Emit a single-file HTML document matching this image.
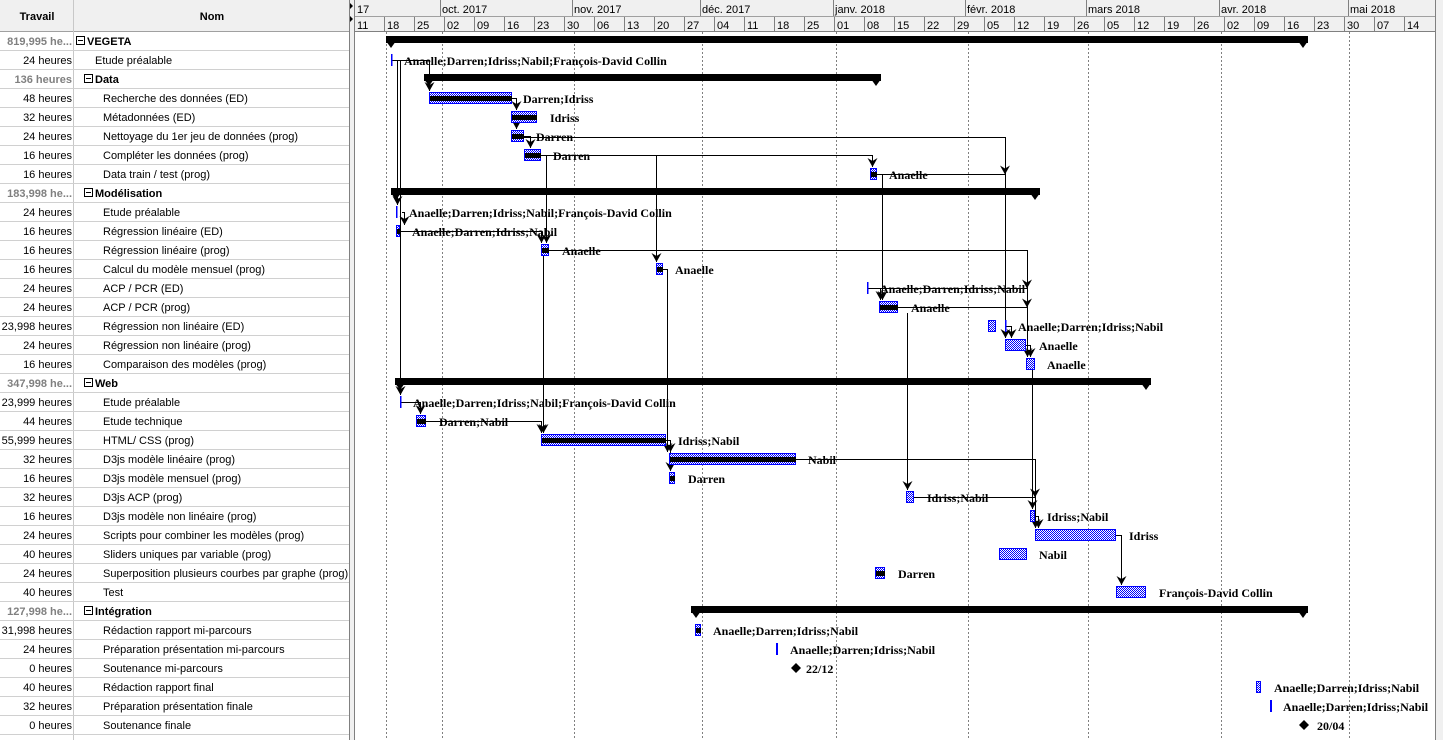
<!DOCTYPE html>
<html><head><meta charset="utf-8"><style>
html,body{margin:0;padding:0;background:#fff;width:1443px;height:740px;overflow:hidden}
svg{display:block}
.t{font-family:"Liberation Sans",sans-serif;font-size:11px;fill:#000}
.tr{font-family:"Liberation Sans",sans-serif;font-size:11px;fill:#000;text-anchor:end}
.sg{font-family:"Liberation Sans",sans-serif;font-size:11px;font-weight:bold;fill:#808080;text-anchor:end}
.sb{font-family:"Liberation Sans",sans-serif;font-size:11px;font-weight:bold;fill:#000}
.h{font-family:"Liberation Sans",sans-serif;font-size:11px;font-weight:bold;fill:#000;text-anchor:middle}
.l{font-family:"Liberation Serif",serif;font-size:12px;font-weight:bold;fill:#000}
.c{fill:none;stroke:#000;stroke-width:1}
</style></head><body>
<svg width="1443" height="740" xmlns="http://www.w3.org/2000/svg">
<defs>
<pattern id="chk" width="2" height="2" patternUnits="userSpaceOnUse"><rect width="2" height="2" fill="#fff"/><rect width="1" height="1" fill="#0000ff"/><rect x="1" y="1" width="1" height="1" fill="#0000ff"/></pattern>
<marker id="a" markerWidth="10" markerHeight="9" refX="5" refY="9" orient="0" markerUnits="userSpaceOnUse"><polygon points="0,0 5,3 10,0 5,9" fill="#000"/></marker>
</defs>
<rect width="1443" height="740" fill="#fff"/>
<rect x="0" y="0" width="349" height="31" fill="#f0f0f0"/>
<line x1="0" y1="31.5" x2="349" y2="31.5" stroke="#a0a0a0"/>
<line x1="73.5" y1="0" x2="73.5" y2="740" stroke="#c8c8c8"/>
<text class="h" x="37" y="20">Travail</text>
<text class="h" x="212" y="20">Nom</text>
<g stroke="#d0d0d0">
<line x1="0" y1="50.5" x2="349" y2="50.5"/><line x1="0" y1="69.5" x2="349" y2="69.5"/><line x1="0" y1="88.5" x2="349" y2="88.5"/><line x1="0" y1="107.5" x2="349" y2="107.5"/><line x1="0" y1="126.5" x2="349" y2="126.5"/><line x1="0" y1="145.5" x2="349" y2="145.5"/><line x1="0" y1="164.5" x2="349" y2="164.5"/><line x1="0" y1="183.5" x2="349" y2="183.5"/><line x1="0" y1="202.5" x2="349" y2="202.5"/><line x1="0" y1="221.5" x2="349" y2="221.5"/><line x1="0" y1="240.5" x2="349" y2="240.5"/><line x1="0" y1="259.5" x2="349" y2="259.5"/><line x1="0" y1="278.5" x2="349" y2="278.5"/><line x1="0" y1="297.5" x2="349" y2="297.5"/><line x1="0" y1="316.5" x2="349" y2="316.5"/><line x1="0" y1="335.5" x2="349" y2="335.5"/><line x1="0" y1="354.5" x2="349" y2="354.5"/><line x1="0" y1="373.5" x2="349" y2="373.5"/><line x1="0" y1="392.5" x2="349" y2="392.5"/><line x1="0" y1="411.5" x2="349" y2="411.5"/><line x1="0" y1="430.5" x2="349" y2="430.5"/><line x1="0" y1="449.5" x2="349" y2="449.5"/><line x1="0" y1="468.5" x2="349" y2="468.5"/><line x1="0" y1="487.5" x2="349" y2="487.5"/><line x1="0" y1="506.5" x2="349" y2="506.5"/><line x1="0" y1="525.5" x2="349" y2="525.5"/><line x1="0" y1="544.5" x2="349" y2="544.5"/><line x1="0" y1="563.5" x2="349" y2="563.5"/><line x1="0" y1="582.5" x2="349" y2="582.5"/><line x1="0" y1="601.5" x2="349" y2="601.5"/><line x1="0" y1="620.5" x2="349" y2="620.5"/><line x1="0" y1="639.5" x2="349" y2="639.5"/><line x1="0" y1="658.5" x2="349" y2="658.5"/><line x1="0" y1="677.5" x2="349" y2="677.5"/><line x1="0" y1="696.5" x2="349" y2="696.5"/><line x1="0" y1="715.5" x2="349" y2="715.5"/><line x1="0" y1="734.5" x2="349" y2="734.5"/>
</g>
<g fill="#fff" stroke="#000">
<rect x="76.5" y="36.5" width="8" height="8"/><rect x="84.5" y="74.5" width="8" height="8"/><rect x="84.5" y="188.5" width="8" height="8"/><rect x="84.5" y="378.5" width="8" height="8"/><rect x="84.5" y="606.5" width="8" height="8"/>
<line x1="78" y1="40.5" x2="83" y2="40.5"/><line x1="86" y1="78.5" x2="91" y2="78.5"/><line x1="86" y1="192.5" x2="91" y2="192.5"/><line x1="86" y1="382.5" x2="91" y2="382.5"/><line x1="86" y1="610.5" x2="91" y2="610.5"/>
</g>
<text class="sg" x="72" y="45">819,995 he...</text><text class="sb" x="87" y="45">VEGETA</text>
<text class="tr" x="72" y="64">24 heures</text><text class="t" x="95" y="64">Etude préalable</text>
<text class="sg" x="72" y="83">136 heures</text><text class="sb" x="95" y="83">Data</text>
<text class="tr" x="72" y="102">48 heures</text><text class="t" x="103" y="102">Recherche des données (ED)</text>
<text class="tr" x="72" y="121">32 heures</text><text class="t" x="103" y="121">Métadonnées (ED)</text>
<text class="tr" x="72" y="140">24 heures</text><text class="t" x="103" y="140">Nettoyage du 1er jeu de données (prog)</text>
<text class="tr" x="72" y="159">16 heures</text><text class="t" x="103" y="159">Compléter les données (prog)</text>
<text class="tr" x="72" y="178">16 heures</text><text class="t" x="103" y="178">Data train / test (prog)</text>
<text class="sg" x="72" y="197">183,998 he...</text><text class="sb" x="95" y="197">Modélisation</text>
<text class="tr" x="72" y="216">24 heures</text><text class="t" x="103" y="216">Etude préalable</text>
<text class="tr" x="72" y="235">16 heures</text><text class="t" x="103" y="235">Régression linéaire (ED)</text>
<text class="tr" x="72" y="254">16 heures</text><text class="t" x="103" y="254">Régression linéaire (prog)</text>
<text class="tr" x="72" y="273">16 heures</text><text class="t" x="103" y="273">Calcul du modèle mensuel (prog)</text>
<text class="tr" x="72" y="292">24 heures</text><text class="t" x="103" y="292">ACP / PCR (ED)</text>
<text class="tr" x="72" y="311">24 heures</text><text class="t" x="103" y="311">ACP / PCR (prog)</text>
<text class="tr" x="72" y="330">23,998 heures</text><text class="t" x="103" y="330">Régression non linéaire (ED)</text>
<text class="tr" x="72" y="349">24 heures</text><text class="t" x="103" y="349">Régression non linéaire (prog)</text>
<text class="tr" x="72" y="368">16 heures</text><text class="t" x="103" y="368">Comparaison des modèles (prog)</text>
<text class="sg" x="72" y="387">347,998 he...</text><text class="sb" x="95" y="387">Web</text>
<text class="tr" x="72" y="406">23,999 heures</text><text class="t" x="103" y="406">Etude préalable</text>
<text class="tr" x="72" y="425">44 heures</text><text class="t" x="103" y="425">Etude technique</text>
<text class="tr" x="72" y="444">55,999 heures</text><text class="t" x="103" y="444">HTML/ CSS (prog)</text>
<text class="tr" x="72" y="463">32 heures</text><text class="t" x="103" y="463">D3js modèle linéaire (prog)</text>
<text class="tr" x="72" y="482">16 heures</text><text class="t" x="103" y="482">D3js modèle mensuel (prog)</text>
<text class="tr" x="72" y="501">32 heures</text><text class="t" x="103" y="501">D3js ACP (prog)</text>
<text class="tr" x="72" y="520">16 heures</text><text class="t" x="103" y="520">D3js modèle non linéaire (prog)</text>
<text class="tr" x="72" y="539">24 heures</text><text class="t" x="103" y="539">Scripts pour combiner les modèles (prog)</text>
<text class="tr" x="72" y="558">40 heures</text><text class="t" x="103" y="558">Sliders uniques par variable (prog)</text>
<text class="tr" x="72" y="577">24 heures</text><text class="t" x="103" y="577">Superposition plusieurs courbes par graphe (prog)</text>
<text class="tr" x="72" y="596">40 heures</text><text class="t" x="103" y="596">Test</text>
<text class="sg" x="72" y="615">127,998 he...</text><text class="sb" x="95" y="615">Intégration</text>
<text class="tr" x="72" y="634">31,998 heures</text><text class="t" x="103" y="634">Rédaction rapport mi-parcours</text>
<text class="tr" x="72" y="653">24 heures</text><text class="t" x="103" y="653">Préparation présentation mi-parcours</text>
<text class="tr" x="72" y="672">0 heures</text><text class="t" x="103" y="672">Soutenance mi-parcours</text>
<text class="tr" x="72" y="691">40 heures</text><text class="t" x="103" y="691">Rédaction rapport final</text>
<text class="tr" x="72" y="710">32 heures</text><text class="t" x="103" y="710">Préparation présentation finale</text>
<text class="tr" x="72" y="729">0 heures</text><text class="t" x="103" y="729">Soutenance finale</text>
<rect x="349" y="0" width="6" height="740" fill="#f0f0f0"/>
<line x1="349.5" y1="0" x2="349.5" y2="740" stroke="#808080"/>
<line x1="354.5" y1="0" x2="354.5" y2="740" stroke="#808080"/>
<polygon points="350,3 353,6 350,9" fill="#000"/><polygon points="350,16 353,19 350,22" fill="#000"/>
<rect x="355" y="0" width="1080" height="31" fill="#f0f0f0"/>
<rect x="1435" y="0" width="8" height="740" fill="#f0f0f0"/>
<line x1="1435.5" y1="0" x2="1435.5" y2="740" stroke="#808080"/>
<line x1="355" y1="16.5" x2="1435" y2="16.5" stroke="#a0a0a0"/>
<line x1="355" y1="31.5" x2="1435" y2="31.5" stroke="#808080"/>
<g stroke="#808080">
<line x1="440.5" y1="0" x2="440.5" y2="16"/><line x1="572.5" y1="0" x2="572.5" y2="16"/><line x1="700.5" y1="0" x2="700.5" y2="16"/><line x1="833.5" y1="0" x2="833.5" y2="16"/><line x1="965.5" y1="0" x2="965.5" y2="16"/><line x1="1086.5" y1="0" x2="1086.5" y2="16"/><line x1="1219.5" y1="0" x2="1219.5" y2="16"/><line x1="1348.5" y1="0" x2="1348.5" y2="16"/>
</g>
<text class="t" x="357" y="13">17</text><text class="t" x="442" y="13">oct. 2017</text><text class="t" x="574" y="13">nov. 2017</text><text class="t" x="702" y="13">déc. 2017</text><text class="t" x="835" y="13">janv. 2018</text><text class="t" x="967" y="13">févr. 2018</text><text class="t" x="1088" y="13">mars 2018</text><text class="t" x="1221" y="13">avr. 2018</text><text class="t" x="1350" y="13">mai 2018</text>
<g stroke="#808080">
<line x1="384.5" y1="17" x2="384.5" y2="31"/><line x1="414.5" y1="17" x2="414.5" y2="31"/><line x1="444.5" y1="17" x2="444.5" y2="31"/><line x1="474.5" y1="17" x2="474.5" y2="31"/><line x1="504.5" y1="17" x2="504.5" y2="31"/><line x1="534.5" y1="17" x2="534.5" y2="31"/><line x1="564.5" y1="17" x2="564.5" y2="31"/><line x1="594.5" y1="17" x2="594.5" y2="31"/><line x1="624.5" y1="17" x2="624.5" y2="31"/><line x1="654.5" y1="17" x2="654.5" y2="31"/><line x1="684.5" y1="17" x2="684.5" y2="31"/><line x1="714.5" y1="17" x2="714.5" y2="31"/><line x1="744.5" y1="17" x2="744.5" y2="31"/><line x1="774.5" y1="17" x2="774.5" y2="31"/><line x1="804.5" y1="17" x2="804.5" y2="31"/><line x1="834.5" y1="17" x2="834.5" y2="31"/><line x1="864.5" y1="17" x2="864.5" y2="31"/><line x1="894.5" y1="17" x2="894.5" y2="31"/><line x1="924.5" y1="17" x2="924.5" y2="31"/><line x1="954.5" y1="17" x2="954.5" y2="31"/><line x1="984.5" y1="17" x2="984.5" y2="31"/><line x1="1014.5" y1="17" x2="1014.5" y2="31"/><line x1="1044.5" y1="17" x2="1044.5" y2="31"/><line x1="1074.5" y1="17" x2="1074.5" y2="31"/><line x1="1104.5" y1="17" x2="1104.5" y2="31"/><line x1="1134.5" y1="17" x2="1134.5" y2="31"/><line x1="1164.5" y1="17" x2="1164.5" y2="31"/><line x1="1194.5" y1="17" x2="1194.5" y2="31"/><line x1="1224.5" y1="17" x2="1224.5" y2="31"/><line x1="1254.5" y1="17" x2="1254.5" y2="31"/><line x1="1284.5" y1="17" x2="1284.5" y2="31"/><line x1="1314.5" y1="17" x2="1314.5" y2="31"/><line x1="1344.5" y1="17" x2="1344.5" y2="31"/><line x1="1374.5" y1="17" x2="1374.5" y2="31"/><line x1="1404.5" y1="17" x2="1404.5" y2="31"/>
</g>
<g>
<text class="t" x="357" y="29">11</text><text class="t" x="387" y="29">18</text><text class="t" x="417" y="29">25</text><text class="t" x="447" y="29">02</text><text class="t" x="477" y="29">09</text><text class="t" x="507" y="29">16</text><text class="t" x="537" y="29">23</text><text class="t" x="567" y="29">30</text><text class="t" x="597" y="29">06</text><text class="t" x="627" y="29">13</text><text class="t" x="657" y="29">20</text><text class="t" x="687" y="29">27</text><text class="t" x="717" y="29">04</text><text class="t" x="747" y="29">11</text><text class="t" x="777" y="29">18</text><text class="t" x="807" y="29">25</text><text class="t" x="837" y="29">01</text><text class="t" x="867" y="29">08</text><text class="t" x="897" y="29">15</text><text class="t" x="927" y="29">22</text><text class="t" x="957" y="29">29</text><text class="t" x="987" y="29">05</text><text class="t" x="1017" y="29">12</text><text class="t" x="1047" y="29">19</text><text class="t" x="1077" y="29">26</text><text class="t" x="1107" y="29">05</text><text class="t" x="1137" y="29">12</text><text class="t" x="1167" y="29">19</text><text class="t" x="1197" y="29">26</text><text class="t" x="1227" y="29">02</text><text class="t" x="1257" y="29">09</text><text class="t" x="1287" y="29">16</text><text class="t" x="1317" y="29">23</text><text class="t" x="1347" y="29">30</text><text class="t" x="1377" y="29">07</text><text class="t" x="1407" y="29">14</text>
</g>
<g stroke="#808080" stroke-dasharray="2,2">
<line x1="386.5" y1="32" x2="386.5" y2="740"/><line x1="442.5" y1="32" x2="442.5" y2="740"/><line x1="574.5" y1="32" x2="574.5" y2="740"/><line x1="702.5" y1="32" x2="702.5" y2="740"/><line x1="836.5" y1="32" x2="836.5" y2="740"/><line x1="968.5" y1="32" x2="968.5" y2="740"/><line x1="1088.5" y1="32" x2="1088.5" y2="740"/><line x1="1221.5" y1="32" x2="1221.5" y2="740"/><line x1="1349.5" y1="32" x2="1349.5" y2="740"/>
</g>
<g class="c" marker-end="url(#a)">
<path d="M392,60.5H429.5V91"/>
<path d="M397.5,60V205"/>
<path d="M400.5,60V395"/>
<path d="M402,212.5H404.5V225"/>
<path d="M511,98.5H516.5V110"/>
<path d="M516.5,123V129"/>
<path d="M524,136.5H530.5V148"/>
<path d="M524,137.5H1005.5V338"/>
<path d="M541,155.5H872.5V167"/>
<path d="M546.5,155V243"/>
<path d="M656.5,155V262"/>
<path d="M877,174.5H1005"/>
<path d="M882.5,174V300"/>
<path d="M399,231.5H541.5V243"/>
<path d="M548,250.5H1027.5V357"/>
<path d="M543.5,256V433"/>
<path d="M662,269.5H667.5V452"/>
<path d="M867,288.5H1027"/>
<path d="M880.5,288V300"/>
<path d="M898,307.5H1027"/>
<path d="M907.5,313V490"/>
<path d="M1005,326.5H1011.5V338"/>
<path d="M1026,345.5H1030.5V357"/>
<path d="M1032.5,370V509"/>
<path d="M400,402.5H420.5V414"/>
<path d="M426,421.5H541.5V433"/>
<path d="M666,440.5H670.5V452"/>
<path d="M670.5,446V471"/>
<path d="M796,459.5H1035.5V528"/>
<path d="M913,497.5H1035"/>
<path d="M1035,516.5H1038.5V528"/>
<path d="M1116,535.5H1121.5V585"/>
</g>
<g fill="#000">
<rect x="386" y="36" width="922" height="7"/><polygon points="386,41 396,41 391,48"/><polygon points="1298,41 1308,41 1303,48"/>
<rect x="424" y="74" width="457" height="7"/><polygon points="424,79 434,79 429,86"/><polygon points="871,79 881,79 876,86"/>
<rect x="391" y="188" width="649" height="7"/><polygon points="391,193 401,193 396,200"/><polygon points="1030,193 1040,193 1035,200"/>
<rect x="395" y="378" width="756" height="7"/><polygon points="395,383 405,383 400,390"/><polygon points="1141,383 1151,383 1146,390"/>
<rect x="691" y="606" width="617" height="7"/><polygon points="691,611 701,611 696,618"/><polygon points="1298,611 1308,611 1303,618"/>
</g>
<g fill="url(#chk)" stroke="#0000ff" stroke-width="1">
<rect x="429.5" y="92.5" width="82" height="11"/>
<rect x="511.5" y="111.5" width="25" height="11"/>
<rect x="511.5" y="130.5" width="12" height="11"/>
<rect x="524.5" y="149.5" width="16" height="11"/>
<rect x="870.5" y="168.5" width="6" height="11"/>
<rect x="396.5" y="225.5" width="3" height="11"/>
<rect x="541.5" y="244.5" width="7" height="11"/>
<rect x="656.5" y="263.5" width="6" height="11"/>
<rect x="879.5" y="301.5" width="18" height="11"/>
<rect x="988.5" y="320.5" width="7" height="11"/>
<rect x="1005.5" y="339.5" width="20" height="11"/>
<rect x="1026.5" y="358.5" width="8" height="11"/>
<rect x="416.5" y="415.5" width="9" height="11"/>
<rect x="541.5" y="434.5" width="124" height="11"/>
<rect x="669.5" y="453.5" width="126" height="11"/>
<rect x="669.5" y="472.5" width="5" height="11"/>
<rect x="906.5" y="491.5" width="7" height="11"/>
<rect x="1030.5" y="510.5" width="4" height="11"/>
<rect x="1035.5" y="529.5" width="80" height="11"/>
<rect x="999.5" y="548.5" width="27" height="11"/>
<rect x="875.5" y="567.5" width="9" height="11"/>
<rect x="1116.5" y="586.5" width="29" height="11"/>
<rect x="695.5" y="624.5" width="5" height="11"/>
<rect x="1256.5" y="681.5" width="4" height="11"/>
</g>
<g fill="#000">
<rect x="430" y="96" width="82" height="5"/><rect x="512" y="115" width="25" height="5"/><rect x="512" y="134" width="12" height="5"/><rect x="525" y="153" width="16" height="5"/><rect x="871" y="172" width="6" height="5"/><rect x="397" y="229" width="3" height="5"/><rect x="542" y="248" width="7" height="5"/><rect x="657" y="267" width="6" height="5"/><rect x="880" y="305" width="18" height="5"/><rect x="417" y="419" width="9" height="5"/><rect x="542" y="438" width="124" height="5"/><rect x="670" y="457" width="126" height="5"/><rect x="670" y="476" width="5" height="5"/><rect x="876" y="571" width="9" height="5"/><rect x="696" y="628" width="5" height="5"/>
</g>
<g fill="#0000ff">
<rect x="391" y="54" width="1.5" height="12"/><rect x="396" y="206" width="1.5" height="12"/><rect x="867" y="282" width="1.5" height="12"/><rect x="1005" y="320" width="1.5" height="12"/><rect x="400" y="396" width="1.5" height="12"/><rect x="776" y="643" width="2" height="12"/><rect x="1270" y="700" width="2" height="12"/>
</g>
<g fill="#000"><polygon points="796,663 801,668 796,673 791,668"/><polygon points="1304,720 1309,725 1304,730 1299,725"/></g>
<text class="l" x="404" y="65">Anaelle;Darren;Idriss;Nabil;François-David Collin</text>
<text class="l" x="523" y="103">Darren;Idriss</text>
<text class="l" x="550" y="122">Idriss</text>
<text class="l" x="536" y="141">Darren</text>
<text class="l" x="553" y="160">Darren</text>
<text class="l" x="889" y="179">Anaelle</text>
<text class="l" x="409" y="217">Anaelle;Darren;Idriss;Nabil;François-David Collin</text>
<text class="l" x="412" y="236">Anaelle;Darren;Idriss;Nabil</text>
<text class="l" x="562" y="255">Anaelle</text>
<text class="l" x="675" y="274">Anaelle</text>
<text class="l" x="880" y="293">Anaelle;Darren;Idriss;Nabil</text>
<text class="l" x="911" y="312">Anaelle</text>
<text class="l" x="1018" y="331">Anaelle;Darren;Idriss;Nabil</text>
<text class="l" x="1039" y="350">Anaelle</text>
<text class="l" x="1047" y="369">Anaelle</text>
<text class="l" x="413" y="407">Anaelle;Darren;Idriss;Nabil;François-David Collin</text>
<text class="l" x="439" y="426">Darren;Nabil</text>
<text class="l" x="678" y="445">Idriss;Nabil</text>
<text class="l" x="808" y="464">Nabil</text>
<text class="l" x="688" y="483">Darren</text>
<text class="l" x="927" y="502">Idriss;Nabil</text>
<text class="l" x="1047" y="521">Idriss;Nabil</text>
<text class="l" x="1129" y="540">Idriss</text>
<text class="l" x="1039" y="559">Nabil</text>
<text class="l" x="898" y="578">Darren</text>
<text class="l" x="1159" y="597">François-David Collin</text>
<text class="l" x="713" y="635">Anaelle;Darren;Idriss;Nabil</text>
<text class="l" x="790" y="654">Anaelle;Darren;Idriss;Nabil</text>
<text class="l" x="806" y="673">22/12</text>
<text class="l" x="1274" y="692">Anaelle;Darren;Idriss;Nabil</text>
<text class="l" x="1283" y="711">Anaelle;Darren;Idriss;Nabil</text>
<text class="l" x="1317" y="730">20/04</text>
</svg>
</body></html>
